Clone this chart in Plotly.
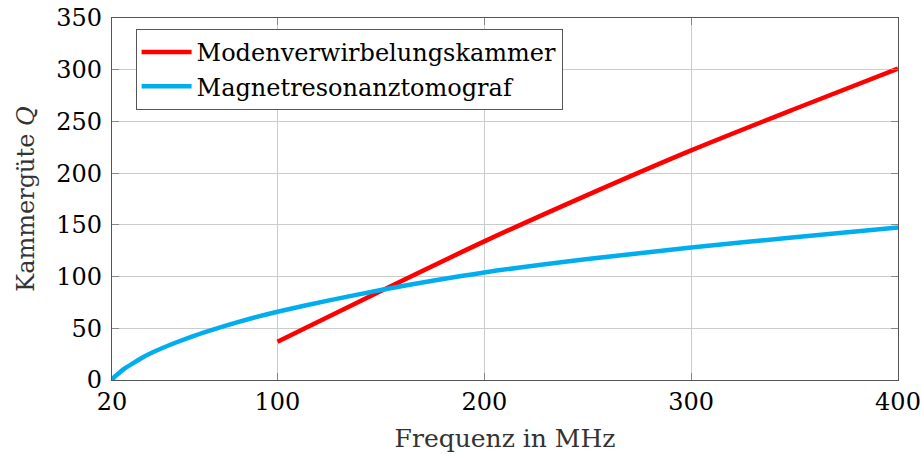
import plotly.graph_objects as go

# Frequency (MHz) and chamber quality factor Q for both setups
freq_msk = [100, 150, 200, 250, 300, 350, 400]
q_msk = [37, 86, 134, 179, 222, 262, 301]

freq_mrt = [20, 21, 23, 26, 30, 35, 40, 50, 60, 70, 80, 90, 100, 125, 150, 175, 200, 250, 300, 350, 400]
q_mrt = [0, 2.5, 6, 11, 16, 22, 27, 35.5, 43, 49.5, 55.5, 61, 66, 77, 87, 96, 104, 117, 128, 138, 147.5]

x_ticks = [20, 100, 200, 300, 400]
y_ticks = [0, 50, 100, 150, 200, 250, 300, 350]

FONT = "DejaVu Serif, 'Liberation Serif', 'Times New Roman', serif"
FS = 24

fig = go.Figure()
fig.add_trace(go.Scatter(
    x=freq_msk, y=q_msk, mode="lines", name="Modenverwirbelungskammer",
    line=dict(color="#ff0000", width=4.5, shape="spline", smoothing=0.8),
))
fig.add_trace(go.Scatter(
    x=freq_mrt, y=q_mrt, mode="lines", name="Magnetresonanztomograf",
    line=dict(color="#00aeef", width=4.5, shape="spline", smoothing=0.8),
))

axis_common = dict(
    showline=True, linecolor="#555555", linewidth=1.2, mirror="ticks",
    showgrid=True, gridcolor="#cccccc", gridwidth=1,
    ticks="inside", ticklen=7, tickcolor="#888888", tickwidth=1,
    zeroline=False, automargin=False,
    tickfont=dict(family=FONT, size=FS, color="#000000"),
)

fig.update_xaxes(
    range=[20, 400], tickvals=x_ticks, ticktext=[str(v) for v in x_ticks],
    title=dict(text="Frequenz in MHz", font=dict(family=FONT, size=25, color="#333333"), standoff=14),
    **axis_common,
)
fig.update_yaxes(
    range=[0, 350], tickvals=y_ticks, ticktext=[str(v) for v in y_ticks],
    ticklabelstandoff=4,
    title=dict(text="Kammergüte <i>Q</i>", font=dict(family=FONT, size=FS, color="#333333"), standoff=14),
    **axis_common,
)

fig.update_layout(
    width=922, height=454,
    margin=dict(l=112, r=24, t=18, b=74),
    paper_bgcolor="#ffffff", plot_bgcolor="#ffffff",
    showlegend=True,
    legend=dict(
        x=0.03, y=0.97, xanchor="left", yanchor="top",
        bgcolor="#ffffff", bordercolor="#555555", borderwidth=1,
        font=dict(family=FONT, size=FS, color="#000000"),
        itemwidth=50, tracegroupgap=0,
    ),
)

fig.write_html("out.html")
